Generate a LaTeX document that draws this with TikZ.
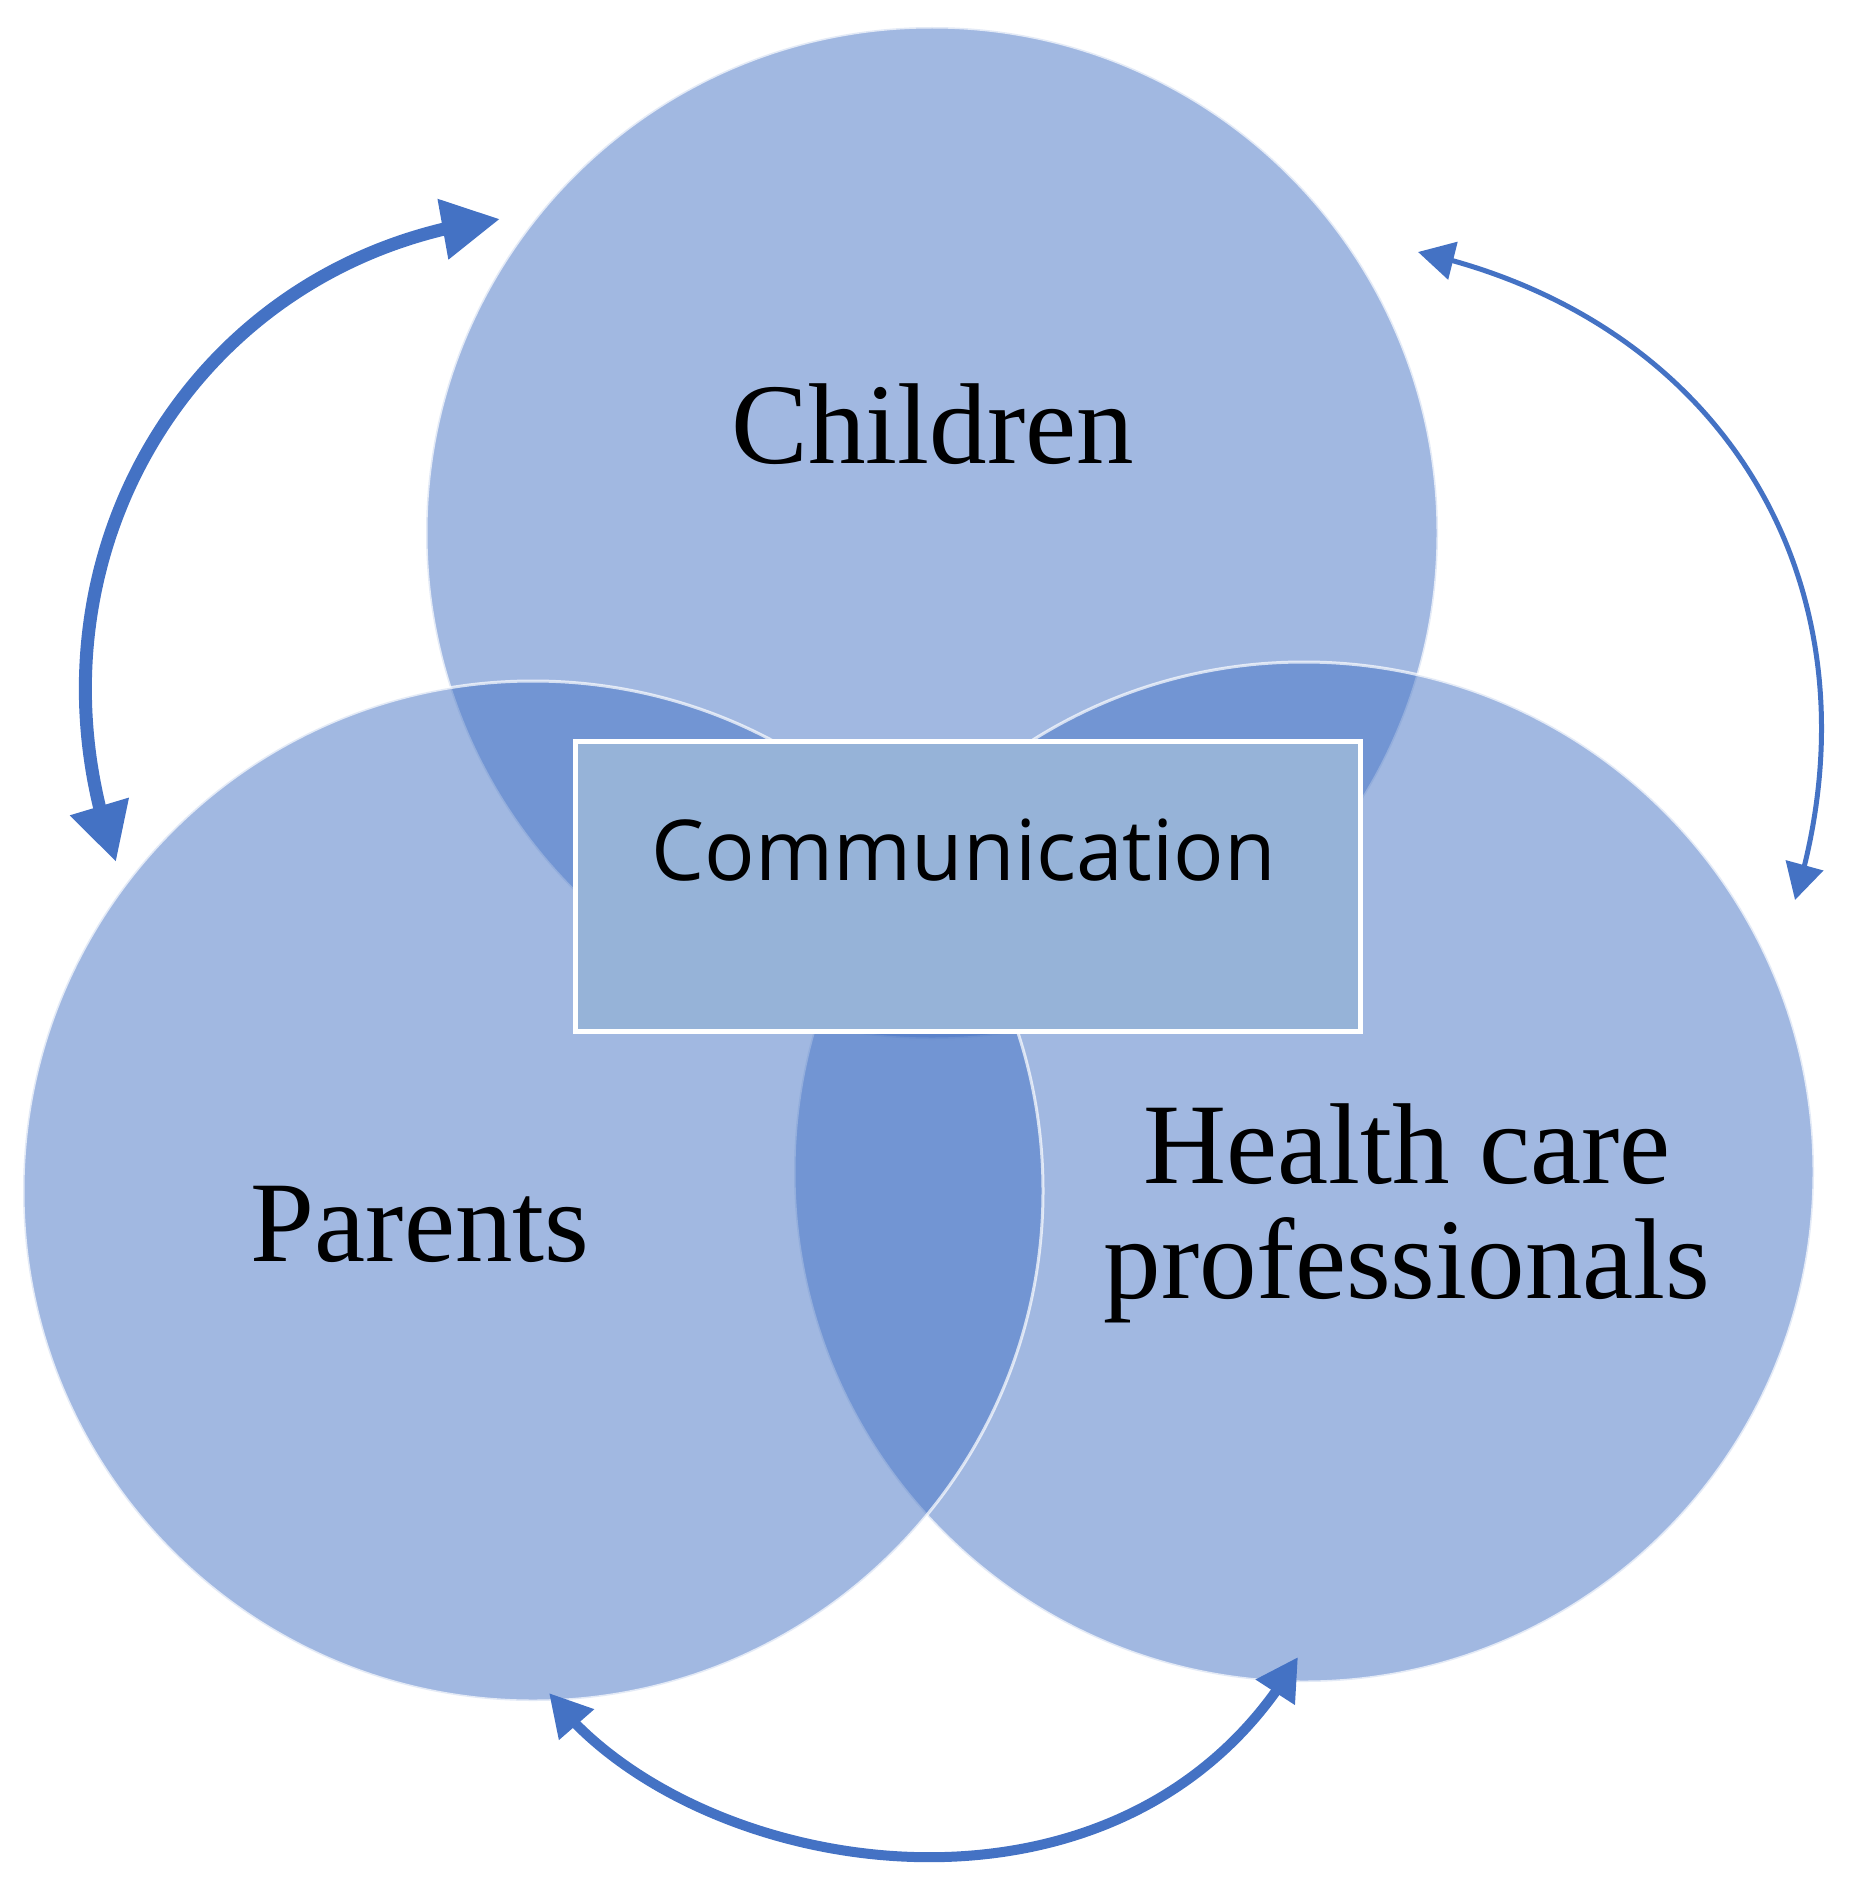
\documentclass[tikz,border=0pt]{standalone}
\usepackage{fontspec}
\setmainfont{Liberation Serif}
\newfontfamily\boxfont{Open Sans}
\usetikzlibrary{arrows.meta,bending}
\definecolor{accent}{HTML}{4472C4}
\definecolor{boxfill}{HTML}{96B3D8}
\begin{document}
\begin{tikzpicture}[x=1pt,y=1pt,
  venn/.style={circle, minimum size=1020pt, inner sep=0pt, fill=accent,
    fill opacity=0.5, draw=white, draw opacity=0.7, line width=3pt},
  lbl/.style={font=\fontsize{115}{115}\selectfont, text=black, anchor=base,
    align=center, inner sep=0pt},
  commbox/.style={draw=white, line width=5pt, fill=boxfill,
    minimum width=785pt, minimum height=290pt, inner sep=0pt},
  commtext/.style={font=\boxfont\fontsize{84}{84}\selectfont, text=black,
    anchor=base, inner sep=0pt},
  bigarrow/.style={draw=accent, line width=13pt,
    arrows={Triangle[length=58pt,width=58pt]-Triangle[length=58pt,width=58pt]}},
  thinarrow/.style={draw=accent, line width=5pt,
    arrows={Triangle[length=36pt,width=38pt]-Triangle[length=36pt,width=38pt]}},
  midarrow/.style={draw=accent, line width=10pt,
    arrows={Triangle[length=42pt,width=44pt]-Triangle[length=42pt,width=44pt]}}
]
\useasboundingbox (0,0) rectangle (1859,-1892);

% circles (order: Children, Health care, Parents)
\node[venn, minimum size=1012pt] (cChildren) at (932,-533) {};
\node[venn] (cHealth) at (1304,-1172) {};
\node[venn] (cParents) at (533,-1191) {};

% central box
\node[commbox] (box) at (967.5,-886) {};
\node[commtext] (comm) at (964,-880) {Communication};

% labels
\node[lbl] (children) at (933,-463) {Children};
\node[lbl] (parents) at (420,-1261) {Parents};
\node[lbl] (hcp) at (1407,-1298) {Health care\\professionals};

% arrow end points
\coordinate (lA) at (116,-862);
\coordinate (lB) at (500,-219);
\coordinate (rA) at (1418,-252);
\coordinate (rB) at (1795,-900);
\coordinate (bA) at (549,-1693);
\coordinate (bB) at (1298,-1657);

% arrows
\draw[bigarrow] (lA) .. controls (10,-567) and (189,-257) .. (lB);
\draw[thinarrow] (rA) .. controls (1730,-321) and (1888,-594) .. (rB);
\draw[midarrow] (bA) .. controls (688,-1879) and (1125,-1956) .. (bB);
\end{tikzpicture}
\end{document}
